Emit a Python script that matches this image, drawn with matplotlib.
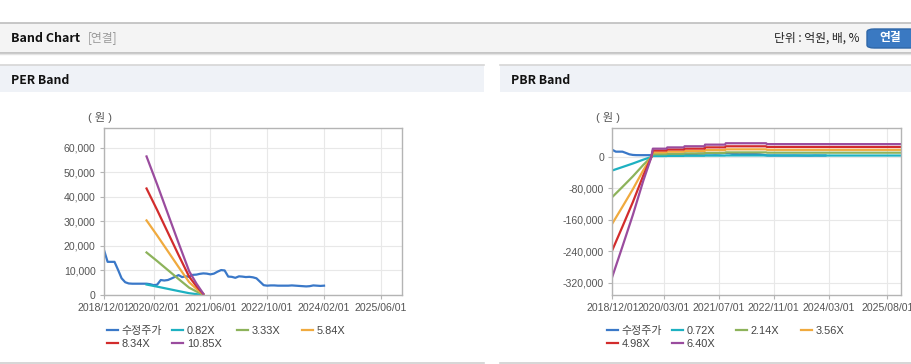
import matplotlib
matplotlib.use("Agg")
import matplotlib.pyplot as plt
import pandas as pd
from matplotlib.patches import Rectangle, FancyBboxPatch
from matplotlib.lines import Line2D
from matplotlib.ticker import FuncFormatter

plt.rcParams["font.family"] = ["Liberation Sans", "Noto Sans CJK KR"]

W, H = 912, 364

# --- data ------------------------------------------------------------------
PRICE_START = "2018-12-01"
# monthly adjusted price (수정주가), 2018/12 .. 2024/02
PRICE = [18300, 13500, 13500, 13500, 10200, 6800, 5200, 4700, 4600, 4600,
         4600, 4600, 4600, 4400, 4000, 4200, 6100, 5900, 6100, 6700,
         7400, 8100, 7300, 7600, 7400, 8200, 8300, 8600, 8800, 8700,
         8400, 8700, 9500, 10150, 10000, 7500, 7400, 7000, 7600, 7500,
         7300, 7400, 7200, 6800, 5400, 4000, 3800, 3900, 3900, 3800,
         3800, 3800, 3800, 3900, 3800, 3700, 3600, 3500, 3600, 3900,
         3800, 3700, 3800]

EPS_DATES = ["2019-12-01", "2020-03-01", "2020-06-01", "2020-09-01",
             "2020-12-01", "2021-02-01", "2021-04-01"]
EPS = [5200, 4150, 3050, 1950, 890, 430, 50]
PER_MULT = [0.82, 3.33, 5.84, 8.34, 10.85]

BPS_DATES = ["2018-12-01", "2019-03-01", "2019-06-01", "2019-09-01",
             "2019-11-10", "2019-11-25", "2020-03-25", "2020-04-01",
             "2020-08-25", "2020-09-01", "2021-02-25", "2021-03-01",
             "2021-08-25", "2021-09-01", "2022-08-25", "2022-09-01",
             "2025-12-01"]
BPS = [-47500, -35500, -23000, -9500, -300, 3300, 3300, 3800, 3800, 4250,
       4250, 4900, 4900, 5450, 5450, 5100, 5100]
PBR_MULT = [0.72, 2.14, 3.56, 4.98, 6.40]

PER_XTICKS = ["2018/12/01", "2020/02/01", "2021/06/01", "2022/10/01",
              "2024/02/01", "2025/06/01"]
PBR_XTICKS = ["2018/12/01", "2020/03/01", "2021/07/01", "2022/11/01",
              "2024/03/01", "2025/08/01"]
PER_YTICKS = [0, 10000, 20000, 30000, 40000, 50000, 60000]
PBR_YTICKS = [-320000, -240000, -160000, -80000, 0]

COLORS = ["#3a78c8", "#1db1c1", "#8db35b", "#f0aa3e", "#d22c2c", "#9a4c9e"]
TICK = "#555555"


def fx(x):
    return x / W


def fy(y):
    return 1 - y / H


def rect(fig, x0, y0, x1, y1, color, z=0):
    fig.add_artist(Rectangle((fx(x0), fy(y1)), fx(x1 - x0), (y1 - y0) / H,
                             transform=fig.transFigure, facecolor=color,
                             edgecolor="none", zorder=z))


def hline(fig, x0, x1, y, color, lw=1.0):
    fig.add_artist(Line2D([fx(x0), fx(x1)], [fy(y), fy(y)],
                          transform=fig.transFigure, color=color, lw=lw))


def style_axes(ax, xticks, yticks, ylim):
    ticks = pd.to_datetime(xticks, format="%Y/%m/%d")
    ax.set_xlim(pd.Timestamp("2018-12-01"), pd.Timestamp("2025-12-01"))
    ax.set_ylim(*ylim)
    ax.set_xticks(ticks)
    ax.set_xticklabels(xticks)
    ax.set_yticks(yticks)
    ax.yaxis.set_major_formatter(FuncFormatter(lambda v, p: f"{int(v):,}"))
    ax.grid(True, color="#e8e8e8", lw=0.8)
    ax.set_axisbelow(True)
    for s in ax.spines.values():
        s.set_color("#b4b4b4")
        s.set_linewidth(1.0)
    ax.tick_params(colors="#b4b4b4", labelcolor=TICK, labelsize=7.6,
                   length=3, width=0.8, pad=3)


def band_legend(fig, lines, labels, xs, y):
    for j, x in enumerate(xs):
        idx = [k for k in (j, j + 4) if k < len(lines)]
        fig.legend([lines[k] for k in idx], [labels[k] for k in idx],
                   loc="upper left", bbox_to_anchor=(fx(x), fy(y)),
                   frameon=False, fontsize=7.9, borderpad=0,
                   borderaxespad=0, handlelength=1.0, handletextpad=0.35,
                   labelspacing=0.28, labelcolor="#444444")


fig = plt.figure(figsize=(W / 100, H / 100), dpi=100)
fig.patch.set_facecolor("white")

# page chrome
hline(fig, 0, W, 22.5, "#bdbdbd", 1.2)
rect(fig, 0, 23, W, 52, "#f4f4f4")
hline(fig, 0, W, 52.5, "#c4c4c4", 1.4)
hline(fig, 0, W, 54, "#e4e4e4", 1.0)
fig.text(fx(11), fy(38), "Band Chart", fontsize=9, fontweight="bold",
         color="#111111", va="center", family=["Noto Sans CJK KR"])
fig.text(fx(88), fy(38), "[연결]", fontsize=8.5, color="#999999",
         va="center", family=["Noto Sans CJK KR"])
fig.text(fx(860), fy(38), "단위 : 억원, 배, %", fontsize=8.5,
         color="#222222", va="center", ha="right",
         family=["Noto Sans CJK KR"])
fig.add_artist(FancyBboxPatch((fx(867), fy(48)), fx(50), 19 / H,
                              boxstyle="round,pad=0,rounding_size=0.008",
                              transform=fig.transFigure,
                              facecolor="#3a79c2", edgecolor="#2f67a8"))
fig.text(fx(890), fy(38), "연결", fontsize=8.5, fontweight="bold",
         color="white", va="center", ha="center",
         family=["Noto Sans CJK KR"])

for x0, x1, title in [(0, 484, "PER Band"), (500, W, "PBR Band")]:
    hline(fig, x0, x1, 64.5, "#d6d6d6", 1.2)
    rect(fig, x0, 65, x1, 92, "#eff2f7")
    hline(fig, x0, x1, 362.5, "#d0d0d0", 1.2)
    fig.text(fx(x0 + 11), fy(80), title, fontsize=8.8, fontweight="bold",
             color="#111111", va="center", family=["Noto Sans CJK KR"])

price_dates = pd.date_range(PRICE_START, periods=len(PRICE), freq="MS")
eps_dates = pd.to_datetime(EPS_DATES)
bps_dates = pd.to_datetime(BPS_DATES)

# --- PER band -------------------------------------------------------------
ax1 = fig.add_axes([fx(104), fy(295), fx(298), 167 / H])
per_lines = [ax1.plot(price_dates, PRICE, color=COLORS[0], lw=1.6)[0]]
for m, c in zip(PER_MULT, COLORS[1:]):
    per_lines.append(ax1.plot(eps_dates, [m * e for e in EPS], color=c,
                              lw=1.6)[0])
style_axes(ax1, PER_XTICKS, PER_YTICKS, (0, 68000))
fig.text(fx(100), fy(118), "( 원 )", fontsize=8, color=TICK, ha="center",
         va="center")
band_legend(fig, per_lines, ["수정주가"] + [f"{m:.2f}X" for m in PER_MULT],
            [107, 172, 237, 302], 326)

# --- PBR band -------------------------------------------------------------
ax2 = fig.add_axes([fx(612.3), fy(295), fx(288.7), 167 / H])
pbr_lines = [ax2.plot(price_dates, PRICE, color=COLORS[0], lw=1.6)[0]]
for m, c in zip(PBR_MULT, COLORS[1:]):
    pbr_lines.append(ax2.plot(bps_dates, [m * b for b in BPS], color=c,
                              lw=1.6)[0])
style_axes(ax2, PBR_XTICKS, PBR_YTICKS, (-350500, 73600))
fig.text(fx(608), fy(118), "( 원 )", fontsize=8, color=TICK, ha="center",
         va="center")
band_legend(fig, pbr_lines, ["수정주가"] + [f"{m:.2f}X" for m in PBR_MULT],
            [607, 672, 736, 801], 326)

fig.savefig("out.png", dpi=100, facecolor="white")
